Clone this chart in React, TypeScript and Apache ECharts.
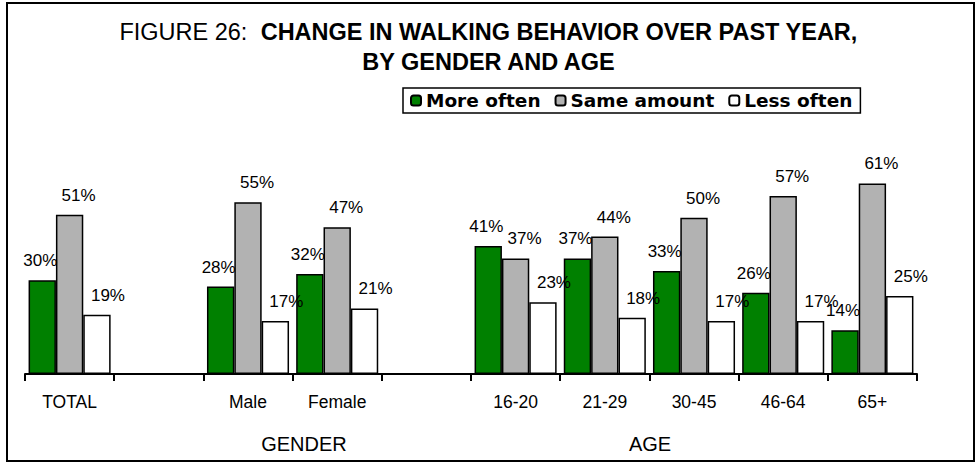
import React, { useEffect, useRef } from "react";
import * as echarts from "echarts";

const categories = ["TOTAL", "", "Male", "Female", "", "16-20", "21-29", "30-45", "46-64", "65+"];
const moreOften = [30, null, 28, 32, null, 41, 37, 33, 26, 14];
const sameAmount = [51, null, 55, 47, null, 37, 44, 50, 57, 61];
const lessOften = [19, null, 17, 21, null, 23, 18, 17, 17, 25];
const seriesNames = ["More often", "Same amount", "Less often"];
const groupLabels = ["GENDER", "AGE"];

const SANS = "'Liberation Sans', Arial, sans-serif";
const LEGEND_FONT = "'DejaVu Sans', 'Liberation Sans', Arial, sans-serif";

export default function App() {
  const ref = useRef<HTMLDivElement>(null);
  useEffect(() => {
    if (!ref.current) return;
    const chart = echarts.init(ref.current, null, { renderer: "svg" });
    const colors = ["#008000", "#b2b2b2", "#ffffff"];
    const dataSets = [moreOften, sameAmount, lessOften];
    const labelDx = [-2, 9, 11];
    chart.setOption({
      animation: false,
      backgroundColor: "#ffffff",
      title: {
        text: "{n|FIGURE 26:  }{b|CHANGE IN WALKING BEHAVIOR OVER PAST YEAR,}\n{b|BY GENDER AND AGE}",
        left: "center",
        top: 12,
        textStyle: {
          rich: {
            n: { fontFamily: SANS, fontSize: 23.5, fontWeight: "normal", color: "#000", lineHeight: 30 },
            b: { fontFamily: SANS, fontSize: 23.5, fontWeight: "bold", color: "#000", lineHeight: 30 },
          },
        },
      },
      legend: {
        data: seriesNames,
        left: 403,
        top: 88,
        orient: "horizontal",
        itemWidth: 10,
        itemHeight: 10,
        itemGap: 14,
        padding: [3, 8, 3, 7],
        borderColor: "#000",
        borderWidth: 1.5,
        textStyle: { fontFamily: LEGEND_FONT, fontSize: 18.5, fontWeight: "bold", color: "#000" },
      },
      grid: { left: 25, right: 60, top: 124, bottom: 89, containLabel: false },
      xAxis: {
        type: "category",
        data: categories,
        axisLine: { show: true, lineStyle: { color: "#000", width: 2 } },
        axisTick: { show: true, length: 7, lineStyle: { color: "#000", width: 2 } },
        axisLabel: { interval: 0, fontFamily: SANS, fontSize: 17.5, color: "#000", margin: 19 },
      },
      yAxis: { type: "value", min: 0, max: 80, show: false },
      series: dataSets.map((d, i) => ({
        name: seriesNames[i],
        type: "bar",
        data: d,
        barGap: "0%",
        barCategoryGap: "8%",
        itemStyle: { color: colors[i], borderColor: "#000", borderWidth: 1.5 },
        label: {
          show: true,
          position: "top",
          distance: 11,
          offset: [labelDx[i], 0],
          formatter: "{c}%",
          fontFamily: SANS,
          fontSize: 17,
          color: "#000",
        },
      })),
      graphic: [
        {
          type: "rect",
          shape: { x: 7, y: 3, width: 967, height: 458 },
          style: { fill: "none", stroke: "#000", lineWidth: 2 },
          silent: true,
        },
        {
          type: "text",
          x: 304,
          y: 444,
          style: { text: groupLabels[0], font: `20px ${SANS}`, fill: "#000", textAlign: "center", textVerticalAlign: "middle" },
        },
        {
          type: "text",
          x: 650,
          y: 444,
          style: { text: groupLabels[1], font: `20px ${SANS}`, fill: "#000", textAlign: "center", textVerticalAlign: "middle" },
        },
      ],
    });
    return () => chart.dispose();
  }, []);
  return <div ref={ref} style={{ position: "fixed", left: 0, top: 0, width: 977, height: 463 }} />;
}
